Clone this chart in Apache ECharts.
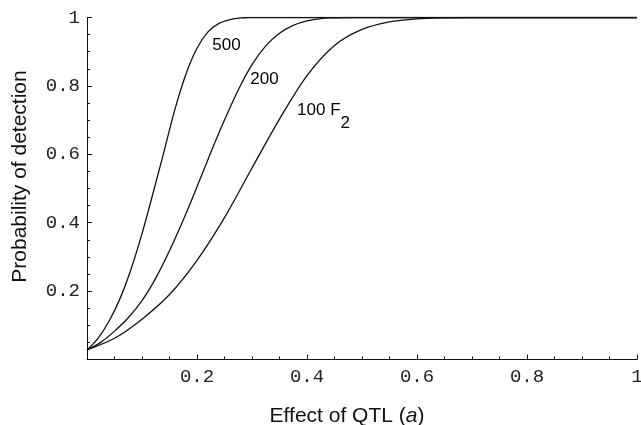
<!DOCTYPE html>
<html>
<head>
<meta charset="utf-8">
<script src="https://cdn.jsdelivr.net/npm/echarts@6/dist/echarts.min.js"></script>
<style>html,body{margin:0;padding:0;background:#fff}#c{width:641px;height:425px}</style>
</head>
<body>
<div id="c"></div>
<script>
// Series: effect of QTL (a) vs probability of detection
const x500 = [0, 0.02, 0.04, 0.06, 0.08, 0.10, 0.12, 0.14, 0.16, 0.18, 0.20, 0.22, 0.24, 0.26, 0.28, 0.30, 0.5, 1];
const y500 = [0.028, 0.062, 0.112, 0.178, 0.264, 0.368, 0.486, 0.608, 0.732, 0.835, 0.91, 0.958, 0.983, 0.994, 0.999, 1, 1, 1];
const x200 = [0, 0.025, 0.05, 0.075, 0.1, 0.125, 0.15, 0.175, 0.2, 0.225, 0.25, 0.275, 0.3, 0.325, 0.35, 0.375, 0.4, 0.425, 0.45, 0.475, 0.7, 1];
const y200 = [0.028, 0.05, 0.083, 0.122, 0.172, 0.238, 0.318, 0.408, 0.505, 0.605, 0.7, 0.788, 0.862, 0.917, 0.954, 0.977, 0.99, 0.997, 0.999, 1, 1, 1];
const x100 = [0, 0.05, 0.1, 0.15, 0.2, 0.25, 0.3, 0.35, 0.4, 0.45, 0.5, 0.55, 0.6, 0.65, 0.7, 0.85, 1];
const y100 = [0.028, 0.062, 0.118, 0.19, 0.29, 0.415, 0.56, 0.703, 0.83, 0.918, 0.965, 0.987, 0.996, 0.999, 1, 1, 1];
const labelTexts = ['500', '200', '100 F', '2'];
const labelX = [0.227, 0.296, 0.381, 0.460];
const labelY = [0.92, 0.819, 0.728, 0.691];

const pairs = (xs, ys) => xs.map((x, i) => [x, ys[i]]);
const lineData = [pairs(x500, y500), pairs(x200, y200), pairs(x100, y100)];

const tickFont = {fontFamily: 'Liberation Mono', fontSize: 19, color: '#222'};
const fmt = v => (v === 0 ? '' : String(Math.round(v * 10) / 10));

const series = lineData.map(d => ({
  type: 'line',
  data: d,
  smooth: 0.3,
  showSymbol: false,
  lineStyle: {color: '#111', width: 1.3},
  silent: true
}));
series.push({
  type: 'scatter',
  silent: true,
  symbolSize: 1,
  itemStyle: {color: 'rgba(0,0,0,0)', opacity: 1},
  data: labelX.map((x, i) => ({value: [x, labelY[i]], name: labelTexts[i]})),
  label: {
    show: true, formatter: p => p.name, position: 'right', distance: 0,
    fontFamily: 'Liberation Sans', fontSize: 17, color: '#000', opacity: 1
  },
  labelLayout: {hideOverlap: false}
});

const chart = echarts.init(document.getElementById('c'), null, {renderer: 'canvas'});
chart.setOption({
  animation: false,
  grid: {left: 87, right: 4, top: 17.5, bottom: 65.5, outerBoundsMode: 'none', containLabel: false},
  xAxis: {
    type: 'value', min: 0, max: 1, interval: 0.2,
    splitLine: {show: false},
    axisLine: {lineStyle: {color: '#111', width: 1}},
    axisTick: {inside: true, length: 5, lineStyle: {color: '#111'}},
    minorTick: {show: true, splitNumber: 4, length: 3, lineStyle: {color: '#111'}},
    axisLabel: Object.assign({formatter: fmt, margin: 8}, tickFont),
    name: '{n|Effect of QTL (}{i|a}{n|)}',
    nameLocation: 'middle', nameGap: 46,
    nameTextStyle: {
      padding: [0, 30, 0, 0],
      rich: {
        n: {fontFamily: 'Liberation Sans', fontSize: 21, color: '#111'},
        i: {fontFamily: 'Liberation Sans', fontSize: 21, fontStyle: 'italic', color: '#111'}
      }
    }
  },
  yAxis: {
    type: 'value', min: 0, max: 1, interval: 0.2,
    splitLine: {show: false},
    axisLine: {lineStyle: {color: '#111', width: 1}},
    axisTick: {inside: true, length: 5, lineStyle: {color: '#111'}},
    minorTick: {show: true, splitNumber: 4, length: 3, lineStyle: {color: '#111'}},
    axisLabel: Object.assign({formatter: fmt, margin: 7}, tickFont),
    name: 'Probability of detection',
    nameLocation: 'middle', nameGap: 56,
    nameTextStyle: {fontFamily: 'Liberation Sans', fontSize: 21, color: '#111', padding: [0, 0, 0, 24]}
  },
  series: series
});
</script>
</body>
</html>
